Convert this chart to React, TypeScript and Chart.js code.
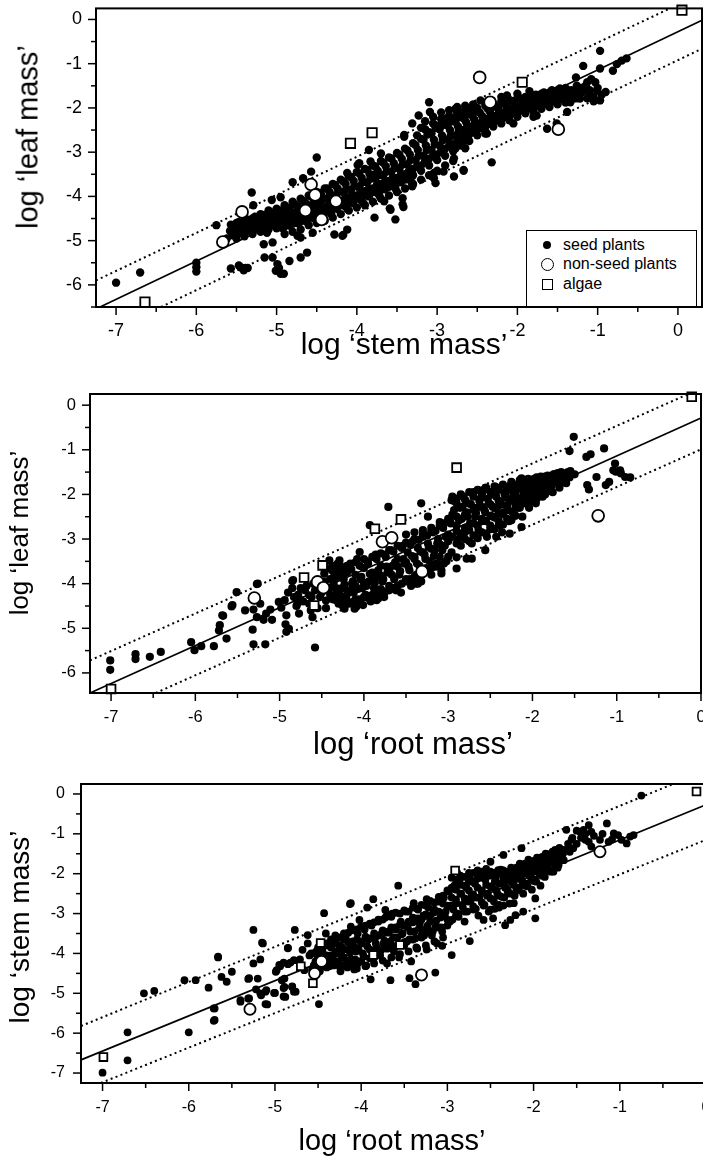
import React, { useEffect, useRef } from "react";
import { Chart, registerables } from "chart.js";

Chart.register(...registerables);

type Pt = [number, number];

const FONT = '"Liberation Sans", Arial, Helvetica, sans-serif';

const legendLabels = ["seed plants", "non-seed plants", "algae"];

// ---------------- Panel A : leaf vs stem ----------------
const xTitleA = "log \u2018stem mass\u2019";
const yTitleA = "log \u2018leaf mass\u2019";
const xRangeA: Pt = [-7.25, 0.3];
const yRangeA: Pt = [-6.5, 0.25];
const seedA: Pt[] = [
  [-7.0, -5.95], [-6.7, -5.72], [-6.0, -5.5], [-6.0, -5.6], [-6.0, -5.7], [-5.75, -4.65],
  [-5.57, -5.63], [-5.47, -5.56], [-5.41, -5.67], [-5.36, -5.62], [-5.45, -5.6], [-5.39, -5.62],
  [-5.31, -3.91], [-5.29, -4.2], [-5.06, -4.08], [-4.95, -4.02],
  [-5.16, -5.08], [-5.05, -5.04], [-5.15, -5.38], [-5.05, -5.38], [-4.99, -5.53], [-5.01, -5.68],
  [-4.95, -5.75], [-4.91, -5.75], [-4.97, -5.62], [-4.84, -5.46], [-4.7, -5.38], [-4.62, -5.27],
  [-4.74, -4.89], [-4.7, -4.93], [-4.55, -4.82], [-4.28, -4.86], [-4.17, -4.87], [-4.12, -4.75], [-4.18, -4.89],
  [-4.5, -3.12], [-4.57, -3.44], [-4.8, -3.68], [-4.67, -3.59],
  [-3.85, -2.95], [-3.7, -3.03], [-3.97, -3.25], [-4.12, -3.47], [-3.83, -3.21], [-3.99, -3.29],
  [-3.41, -2.61], [-3.23, -2.17], [-3.1, -1.87], [-3.09, -2.09], [-3.31, -2.35], [-3.41, -2.65],
  [-3.78, -4.48], [-3.52, -4.52], [-3.59, -4.27], [-3.42, -4.24], [-3.43, -4.04], [-3.66, -4.11],
  [-3.43, -4.18], [-3.58, -4.3], [-3.79, -3.51], [-3.97, -3.81],
  [-3.31, -3.77], [-3.04, -3.47], [-3.04, -3.59], [-2.92, -3.44], [-2.79, -3.55], [-2.67, -3.4],
  [-2.79, -3.14], [-2.32, -3.23], [-3.02, -3.7], [-2.67, -3.42],
  [-2.77, -2.91], [-2.65, -2.73], [-2.4, -2.58], [-2.05, -2.35], [-1.8, -2.2], [-1.63, -2.47],
  [-1.51, -2.35], [-1.38, -2.09], [-1.3, -1.79], [-1.76, -2.17], [-2.38, -2.58], [-2.65, -2.91],
  [-2.46, -1.83], [-2.77, -2.02], [-2.13, -1.72],
  [-0.97, -0.71], [-1.18, -1.05], [-0.97, -1.11], [-0.81, -1.16], [-0.76, -1.01], [-0.7, -0.93],
  [-0.64, -0.88], [-1.27, -1.31],
  [-1.26, -1.5], [-1.26, -1.62], [-1.26, -1.78], [-1.13, -1.42], [-1.13, -1.6], [-1.13, -1.78],
  [-1.03, -1.42], [-1.01, -1.61], [-0.9, -1.64], [-0.97, -1.83], [-1.05, -1.76], [-1.34, -1.87], [-1.22, -1.79],
  [-3.2, -2.45], [-3.15, -2.3], [-3.05, -2.2], [-2.95, -2.1], [-2.85, -2.05], [-2.75, -1.98],
  [-2.65, -1.95], [-2.55, -1.92], [-2.9, -2.25], [-2.7, -2.15], [-2.6, -2.05],
  [-2.2, -1.75], [-2.0, -1.68], [-1.85, -1.62], [-2.35, -1.85],
  [-5.62, -4.95], [-5.58, -4.78], [-5.55, -4.68],
  [-5.5, -4.85], [-5.47, -4.72], [-5.44, -4.62],
  [-5.4, -4.8], [-5.37, -4.66], [-5.33, -4.55],
  [-5.3, -4.75], [-5.27, -4.6], [-5.24, -4.48],
  [-5.2, -4.72], [-5.17, -4.58], [-5.14, -4.45], [-5.12, -4.82],
  [-5.1, -4.62], [-5.07, -4.5], [-5.04, -4.38],
  [-5.0, -4.6], [-4.97, -4.46], [-4.94, -4.34], [-4.92, -4.72],
  [-4.9, -4.55], [-4.87, -4.42], [-4.84, -4.28],
  [-4.8, -4.5], [-4.77, -4.36], [-4.74, -4.22], [-4.72, -4.6],
  [-4.7, -4.42], [-4.67, -4.28], [-4.64, -4.15],
  [-4.6, -4.38], [-4.57, -4.2], [-4.54, -4.05], [-4.52, -4.5],
  [-4.5, -4.3], [-4.47, -4.12], [-4.44, -3.98],
  [-4.4, -4.25], [-4.37, -4.05], [-4.34, -3.9], [-4.32, -4.4],
  [-4.3, -4.15], [-4.27, -3.98], [-4.24, -3.82],
  [-4.2, -4.1], [-4.17, -3.9], [-4.14, -3.72], [-4.12, -4.28],
  [-4.1, -4.02], [-4.07, -3.85], [-4.04, -3.65],
  [-4.0, -3.98], [-3.97, -3.78], [-3.94, -3.58], [-3.92, -4.15],
  [-3.9, -3.88], [-3.87, -3.68], [-3.84, -3.5],
  [-3.8, -3.82], [-3.77, -3.6], [-3.74, -3.42], [-3.72, -3.98],
  [-3.7, -3.72], [-3.67, -3.52], [-3.64, -3.32],
  [-3.6, -3.65], [-3.57, -3.45], [-3.54, -3.25], [-3.52, -3.82],
  [-3.5, -3.58], [-3.47, -3.38], [-3.44, -3.15],
  [-3.4, -3.5], [-3.37, -3.28], [-3.34, -3.05], [-3.32, -3.68],
  [-3.3, -3.38], [-3.27, -3.18], [-3.24, -2.95],
  [-3.2, -3.3], [-3.17, -3.08], [-3.14, -2.85], [-3.12, -2.6],
  [-3.1, -3.15], [-3.07, -2.95], [-3.04, -2.72], [-3.02, -2.45],
  [-3.0, -3.05], [-2.97, -2.85], [-2.94, -2.62], [-2.92, -2.38],
  [-2.9, -2.92], [-2.87, -2.72], [-2.84, -2.5], [-2.82, -2.3],
  [-2.8, -2.82], [-2.77, -2.62], [-2.74, -2.42], [-2.72, -2.2],
  [-2.7, -2.7], [-2.67, -2.5], [-2.64, -2.32], [-2.62, -2.15],
  [-2.6, -2.6], [-2.57, -2.42], [-2.54, -2.25], [-2.52, -2.08],
  [-2.5, -2.5], [-2.47, -2.35], [-2.44, -2.18],
  [-2.4, -2.42], [-2.37, -2.25], [-2.34, -2.1], [-2.32, -1.98],
  [-2.3, -2.32], [-2.27, -2.18], [-2.24, -2.02],
  [-2.2, -2.25], [-2.17, -2.1], [-2.14, -1.95],
  [-2.1, -2.18], [-2.07, -2.02], [-2.04, -1.88],
  [-2.0, -2.1], [-1.97, -1.96], [-1.94, -1.82],
  [-1.9, -2.05], [-1.87, -1.9], [-1.84, -1.78],
  [-1.8, -1.98], [-1.77, -1.85], [-1.74, -1.72],
  [-1.7, -1.95], [-1.67, -1.8], [-1.64, -1.68],
  [-1.6, -1.9], [-1.57, -1.75], [-1.54, -1.62],
  [-1.5, -1.85], [-1.47, -1.7], [-1.44, -1.58],
  [-1.4, -1.8], [-1.37, -1.66],
];
const seedCoreA: Pt[] = [
  [-5.55, -4.88], [-5.53, -4.74], [-5.57, -4.64], [-5.45, -4.82], [-5.43, -4.7], [-5.47, -4.58],
  [-5.35, -4.77], [-5.33, -4.64], [-5.37, -4.52], [-5.25, -4.72], [-5.23, -4.58], [-5.27, -4.46],
  [-5.15, -4.68], [-5.13, -4.54], [-5.17, -4.42], [-5.05, -4.64], [-5.03, -4.5], [-5.07, -4.36],
  [-4.95, -4.6], [-4.93, -4.45], [-4.97, -4.32], [-4.95, -4.7], [-4.85, -4.55], [-4.83, -4.38],
  [-4.87, -4.25], [-4.85, -4.66], [-4.75, -4.48], [-4.73, -4.32], [-4.77, -4.18], [-4.75, -4.6],
  [-4.65, -4.42], [-4.63, -4.24], [-4.67, -4.1], [-4.65, -4.55], [-4.55, -4.35], [-4.53, -4.16],
  [-4.57, -4.0], [-4.55, -4.48], [-4.45, -4.28], [-4.43, -4.08], [-4.47, -3.92], [-4.45, -4.42],
  [-4.35, -4.2], [-4.33, -3.98], [-4.37, -3.82], [-4.35, -4.35], [-4.25, -4.12], [-4.23, -3.9],
  [-4.27, -3.74], [-4.25, -4.28], [-4.15, -4.05], [-4.13, -3.84], [-4.17, -3.66], [-4.15, -4.22],
  [-4.05, -3.98], [-4.03, -3.76], [-4.07, -3.56], [-4.05, -4.15], [-3.95, -3.9], [-3.93, -3.68],
  [-3.97, -3.48], [-3.95, -4.08], [-3.85, -3.82], [-3.83, -3.6], [-3.87, -3.4], [-3.85, -4.0],
  [-3.75, -3.74], [-3.73, -3.52], [-3.77, -3.32], [-3.75, -3.92], [-3.65, -3.66], [-3.63, -3.44],
  [-3.67, -3.24], [-3.65, -3.84], [-3.55, -3.58], [-3.53, -3.36], [-3.57, -3.14], [-3.55, -3.76],
  [-3.45, -3.5], [-3.43, -3.28], [-3.47, -3.06], [-3.45, -3.68], [-3.35, -3.42], [-3.33, -3.18],
  [-3.37, -2.96], [-3.35, -3.6], [-3.25, -3.32], [-3.23, -3.08], [-3.27, -2.84], [-3.25, -2.62],
  [-3.15, -3.2], [-3.13, -2.95], [-3.17, -2.72], [-3.15, -2.48], [-3.05, -3.08], [-3.03, -2.82],
  [-3.07, -2.58], [-3.05, -2.35], [-2.95, -2.98], [-2.93, -2.72], [-2.97, -2.48], [-2.95, -2.25],
  [-2.85, -2.86], [-2.83, -2.62], [-2.87, -2.4], [-2.85, -2.18], [-2.75, -2.76], [-2.73, -2.52],
  [-2.77, -2.32], [-2.75, -2.1], [-2.65, -2.66], [-2.63, -2.44], [-2.67, -2.24], [-2.65, -2.06],
  [-2.55, -2.55], [-2.53, -2.35], [-2.57, -2.16], [-2.55, -2.0], [-2.45, -2.45], [-2.43, -2.26],
  [-2.47, -2.1], [-2.35, -2.36], [-2.33, -2.18], [-2.37, -2.02], [-2.25, -2.28], [-2.23, -2.1],
  [-2.27, -1.96], [-2.15, -2.2], [-2.13, -2.04], [-2.17, -1.9], [-2.05, -2.12], [-2.03, -1.97],
  [-2.07, -1.84], [-1.95, -2.06], [-1.93, -1.92], [-1.97, -1.78], [-1.85, -2.0], [-1.83, -1.87],
  [-1.87, -1.74], [-1.75, -1.95], [-1.73, -1.82], [-1.77, -1.7], [-1.65, -1.9], [-1.63, -1.77],
  [-1.67, -1.65], [-1.55, -1.85], [-1.53, -1.72], [-1.57, -1.6], [-1.45, -1.8], [-1.43, -1.67],
  [-1.47, -1.56], [-1.35, -1.75], [-1.33, -1.6], [-1.2, -1.65], [-1.15, -1.5], [-1.1, -1.7],
  [-1.0, -1.55], [-0.95, -1.7], [-1.08, -1.35],
];
const seedFillA: Pt[] = [
  [-5.5, -4.95], [-5.5, -4.6], [-5.4, -4.9], [-5.4, -4.55], [-5.3, -4.85], [-5.3, -4.5],
  [-5.2, -4.8], [-5.2, -4.4], [-5.1, -4.75], [-5.1, -4.32], [-5.0, -4.72], [-5.0, -4.28],
  [-4.9, -4.65], [-4.9, -4.2], [-4.9, -4.85], [-4.8, -4.62], [-4.8, -4.12], [-4.8, -4.8],
  [-4.7, -4.55], [-4.7, -4.05], [-4.7, -4.75], [-4.6, -4.5], [-4.6, -3.98], [-4.6, -4.65],
  [-4.5, -4.42], [-4.5, -3.9], [-4.5, -4.6], [-4.4, -4.35], [-4.4, -3.82], [-4.4, -4.55],
  [-4.3, -4.28], [-4.3, -3.72], [-4.3, -4.48], [-4.2, -4.2], [-4.2, -3.62], [-4.2, -4.4],
  [-4.1, -4.12], [-4.1, -3.55], [-4.1, -4.32], [-4.0, -4.05], [-4.0, -3.45], [-4.0, -4.25],
  [-3.9, -3.98], [-3.9, -3.38], [-3.9, -4.2], [-3.8, -3.9], [-3.8, -3.3], [-3.8, -4.12],
  [-3.7, -3.85], [-3.7, -3.2], [-3.7, -4.05], [-3.6, -3.78], [-3.6, -3.12], [-3.6, -3.98],
  [-3.5, -3.7], [-3.5, -3.02], [-3.5, -3.9], [-3.4, -3.62], [-3.4, -2.92], [-3.4, -3.82],
  [-3.3, -3.52], [-3.3, -2.8], [-3.3, -3.72], [-3.2, -3.42], [-3.2, -2.7], [-3.2, -3.62],
  [-3.1, -3.3], [-3.1, -2.55], [-3.1, -3.52], [-3.0, -3.18], [-3.0, -2.4], [-3.0, -3.42],
  [-2.9, -3.08], [-2.9, -2.32], [-2.9, -3.3], [-2.8, -2.98], [-2.8, -2.22], [-2.8, -3.2],
  [-2.7, -2.85], [-2.7, -2.1], [-2.6, -2.75], [-2.6, -2.02], [-2.5, -2.62], [-2.5, -2.0],
  [-2.4, -2.52], [-2.4, -1.95], [-2.3, -2.42], [-2.3, -1.9], [-2.2, -2.35], [-2.2, -1.85],
  [-2.1, -2.28], [-2.1, -1.82], [-2.0, -2.2], [-2.0, -1.78], [-1.9, -2.12], [-1.9, -1.75],
  [-1.8, -2.08], [-1.8, -1.72], [-1.7, -2.02], [-1.7, -1.68], [-1.6, -1.98], [-1.6, -1.65],
  [-1.5, -1.92], [-1.5, -1.6], [-1.4, -1.88], [-1.4, -1.55], [-1.3, -1.7], [-1.2, -1.55],
  [-1.1, -1.6], [-1.05, -1.85],
];
const nonSeedA: Pt[] = [
  [-5.43, -4.35], [-5.67, -5.03], [-4.57, -3.73], [-4.52, -3.97], [-4.44, -4.52],
  [-4.26, -4.11], [-4.64, -4.32], [-2.47, -1.31], [-2.34, -1.87], [-1.49, -2.48],
];
const algaeA: Pt[] = [[-6.64, -6.39], [-4.08, -2.8], [-3.81, -2.56], [-1.94, -1.42], [0.05, 0.21]];
const fitA: Pt[] = [[-7.2, -6.5], [0.3, -0.02]];
const upperA: Pt[] = [[-7.25, -5.9], [-0.1, 0.25]];
const lowerA: Pt[] = [[-6.44, -6.5], [0.3, -0.66]];

// ---------------- Panel B : leaf vs root ----------------
const xTitleB = "log \u2018root mass\u2019";
const yTitleB = "log \u2018leaf mass\u2019";
const xRangeB: Pt = [-7.25, 0];
const yRangeB: Pt = [-6.45, 0.25];
const seedB: Pt[] = [
  [-7.01, -5.72], [-7.01, -5.93], [-6.71, -5.58], [-6.71, -5.69], [-6.54, -5.64], [-6.41, -5.53],
  [-6.05, -5.31], [-6.01, -5.49], [-5.93, -5.4], [-5.78, -5.4], [-5.63, -5.23], [-5.67, -4.72],
  [-5.71, -4.93], [-5.72, -5.05],
  [-5.57, -4.51], [-5.51, -4.19], [-5.41, -4.6], [-5.32, -5.03], [-5.31, -5.36], [-5.17, -5.36], [-5.27, -4.01],
  [-5.3, -4.37], [-5.31, -4.58], [-5.27, -4.75], [-5.19, -4.81], [-5.16, -4.67], [-5.11, -4.58],
  [-5.09, -4.81], [-5.23, -4.45],
  [-5.01, -4.41], [-4.94, -4.37], [-4.98, -4.54], [-4.92, -4.71], [-4.93, -4.91], [-4.89, -5.01], [-4.92, -5.08],
  [-4.85, -3.94], [-4.83, -4.3], [-4.79, -4.45], [-4.75, -4.37], [-4.77, -4.67], [-4.7, -4.15],
  [-4.65, -4.26], [-4.61, -4.75], [-4.63, -4.6],
  [-4.58, -5.43], [-5.56, -4.48], [-5.68, -4.71], [-5.26, -4.0], [-4.84, -3.92],
  [-4.47, -3.77], [-4.37, -4.07], [-4.33, -4.37], [-4.23, -4.56], [-4.21, -3.7], [-4.13, -4.07],
  [-4.09, -4.45], [-4.41, -3.48], [-4.31, -3.55],
  [-4.29, -3.48], [-4.21, -4.33], [-4.09, -4.52], [-4.01, -4.48], [-3.83, -4.33], [-3.38, -4.0],
  [-3.08, -3.77], [-2.9, -3.66], [-2.9, -3.41],
  [-4.23, -4.37], [-4.11, -4.56], [-3.85, -4.37], [-4.05, -3.29], [-3.36, -4.0],
  [-3.71, -2.28], [-3.32, -2.2], [-3.93, -2.69], [-3.24, -2.5], [-2.96, -2.13], [-2.9, -2.1],
  [-2.13, -2.73], [-2.27, -2.88], [-2.43, -2.95], [-2.56, -3.25], [-2.72, -3.44], [-2.78, -3.44],
  [-2.13, -1.64], [-1.99, -1.91], [-1.87, -1.79], [-1.75, -1.68], [-1.63, -1.61], [-1.55, -1.53],
  [-1.51, -0.71], [-1.56, -1.03], [-1.36, -1.16], [-1.31, -1.1], [-1.15, -0.97], [-1.02, -1.31],
  [-1.24, -1.61], [-1.35, -1.79], [-1.33, -1.89],
  [-1.04, -1.46], [-1.01, -1.49], [-0.96, -1.46], [-0.9, -1.61], [-0.84, -1.62], [-0.95, -1.53],
  [-1.13, -1.79], [-1.09, -1.72],
  [-3.5, -2.9], [-3.4, -2.85], [-3.3, -2.8], [-3.2, -2.75], [-3.1, -2.7],
  [-4.85, -4.1], [-4.78, -4.25], [-4.72, -4.4], [-4.68, -4.05], [-4.62, -4.3], [-4.58, -4.15],
  [-4.55, -4.55], [-4.5, -4.2], [-4.47, -3.95], [-4.45, -4.38], [-4.42, -4.1],
  [-4.38, -3.7], [-4.36, -4.0], [-4.34, -4.25], [-4.32, -3.85], [-4.3, -4.4], [-4.28, -3.6],
  [-4.26, -4.1], [-4.24, -3.9], [-4.22, -4.3], [-4.2, -3.75], [-4.18, -4.45], [-4.16, -3.55],
  [-4.14, -4.0], [-4.12, -4.2], [-4.1, -3.8], [-4.08, -3.45], [-4.06, -4.35], [-4.04, -3.9],
  [-4.02, -4.1], [-4.0, -3.65], [-3.98, -4.25], [-3.96, -3.5], [-3.94, -3.95], [-3.92, -4.4],
  [-3.9, -3.75], [-3.88, -4.1], [-3.86, -3.35], [-3.84, -3.85], [-3.82, -4.2], [-3.8, -3.6],
  [-3.78, -3.95], [-3.76, -4.3], [-3.74, -3.4], [-3.72, -3.75], [-3.7, -4.05], [-3.68, -3.25],
  [-3.66, -3.6], [-3.64, -3.9], [-3.62, -4.15], [-3.6, -3.45], [-3.58, -3.8], [-3.56, -4.2],
  [-3.54, -3.15], [-3.52, -3.55], [-3.5, -3.9], [-3.48, -3.3], [-3.46, -3.7], [-3.44, -4.05],
  [-3.42, -3.05], [-3.4, -3.45], [-3.38, -3.8], [-3.36, -3.2], [-3.34, -3.6], [-3.32, -3.95],
  [-3.3, -2.95], [-3.28, -3.35], [-3.26, -3.65], [-3.24, -3.1], [-3.22, -3.5], [-3.2, -3.8],
  [-3.18, -2.85], [-3.16, -3.25], [-3.14, -3.55], [-3.12, -3.0], [-3.1, -3.4], [-3.08, -3.7],
  [-3.06, -2.75], [-3.04, -3.15], [-3.02, -3.5], [-3.0, -2.9], [-2.98, -2.6], [-2.96, -3.3],
  [-2.95, -2.45], [-2.93, -2.15], [-2.9, -2.7], [-2.88, -3.0], [-2.86, -2.3], [-2.84, -2.55],
  [-2.82, -2.05], [-2.8, -2.85], [-2.78, -2.4], [-2.76, -2.2], [-2.74, -2.65], [-2.72, -3.1],
  [-2.7, -1.95], [-2.68, -2.5], [-2.66, -2.3], [-2.64, -2.8], [-2.62, -2.1], [-2.6, -2.6],
  [-2.58, -1.9], [-2.56, -2.4], [-2.54, -2.95], [-2.52, -2.2], [-2.5, -2.7], [-2.48, -2.0],
  [-2.46, -2.5], [-2.44, -2.3], [-2.42, -1.85], [-2.4, -2.6], [-2.38, -2.15], [-2.36, -2.85],
  [-2.34, -2.4], [-2.32, -1.95], [-2.3, -2.25], [-2.28, -2.6], [-2.26, -1.8], [-2.24, -2.1],
  [-2.22, -2.45], [-2.2, -1.95], [-2.18, -2.3], [-2.16, -1.75], [-2.14, -2.15], [-2.12, -2.5],
  [-2.1, -1.9], [-2.08, -2.05], [-2.06, -1.7], [-2.04, -2.3], [-2.02, -1.85], [-2.0, -2.0],
  [-1.98, -1.65], [-1.96, -2.2], [-1.94, -1.8], [-1.92, -1.95], [-1.9, -1.6], [-1.88, -2.05],
  [-1.86, -1.75], [-1.84, -1.9], [-1.82, -1.58], [-1.8, -1.8], [-1.78, -1.65], [-1.76, -1.95],
  [-1.74, -1.55], [-1.72, -1.72], [-1.7, -1.6], [-1.68, -1.85], [-1.66, -1.5], [-1.64, -1.68],
  [-1.62, -1.55], [-1.6, -1.75], [-1.58, -1.5], [-1.56, -1.62], [-1.54, -1.55],
];
const seedCoreB: Pt[] = [
  [-4.9, -4.2], [-4.8, -4.5], [-4.75, -4.1], [-4.65, -4.45], [-4.6, -4.0], [-4.52, -4.3], [-4.45, -4.55], [-4.4, -3.9],
  [-4.35, -3.8], [-4.33, -4.1], [-4.37, -4.35], [-4.35, -3.6], [-4.25, -3.75], [-4.23, -4.02],
  [-4.27, -4.28], [-4.25, -4.5], [-4.15, -3.68], [-4.13, -3.95], [-4.17, -4.2], [-4.15, -4.42],
  [-4.05, -3.6], [-4.03, -3.85], [-4.07, -4.12], [-4.05, -4.38], [-3.95, -3.55], [-3.93, -3.78],
  [-3.97, -4.05], [-3.95, -4.32], [-3.85, -3.45], [-3.83, -3.7], [-3.87, -3.98], [-3.85, -4.25],
  [-3.75, -3.35], [-3.73, -3.62], [-3.77, -3.9], [-3.75, -4.18], [-3.65, -3.28], [-3.63, -3.52],
  [-3.67, -3.8], [-3.65, -4.1], [-3.55, -3.2], [-3.53, -3.45], [-3.57, -3.72], [-3.55, -4.0],
  [-3.45, -3.12], [-3.43, -3.38], [-3.47, -3.62], [-3.45, -3.9], [-3.35, -3.02], [-3.33, -3.28],
  [-3.37, -3.55], [-3.35, -3.82], [-3.25, -2.92], [-3.23, -3.18], [-3.27, -3.45], [-3.25, -3.72],
  [-3.15, -2.82], [-3.13, -3.1], [-3.17, -3.38], [-3.15, -3.62], [-3.05, -2.65], [-3.03, -2.95],
  [-3.07, -3.25], [-3.05, -3.55],
  [-2.95, -2.05], [-2.93, -2.35], [-2.97, -2.65], [-2.95, -2.95], [-2.85, -2.0], [-2.83, -2.28],
  [-2.87, -2.58], [-2.85, -2.88], [-2.85, -3.15], [-2.75, -1.95], [-2.73, -2.22], [-2.77, -2.5],
  [-2.75, -2.8], [-2.75, -3.05], [-2.65, -1.9], [-2.63, -2.15], [-2.67, -2.42], [-2.65, -2.7],
  [-2.65, -2.98], [-2.55, -1.85], [-2.53, -2.1], [-2.57, -2.35], [-2.55, -2.6], [-2.55, -2.88],
  [-2.45, -1.82], [-2.43, -2.05], [-2.47, -2.28], [-2.45, -2.52], [-2.45, -2.78], [-2.35, -1.78],
  [-2.33, -2.0], [-2.37, -2.22], [-2.35, -2.45], [-2.35, -2.68], [-2.25, -1.72], [-2.23, -1.95],
  [-2.27, -2.15], [-2.25, -2.38], [-2.25, -2.58], [-2.15, -1.68], [-2.13, -1.88], [-2.17, -2.08],
  [-2.15, -2.3], [-2.05, -1.65], [-2.03, -1.82], [-2.07, -2.0], [-2.05, -2.2], [-1.95, -1.62],
  [-1.93, -1.76], [-1.97, -1.92], [-1.95, -2.1], [-1.85, -1.6], [-1.83, -1.72], [-1.87, -1.86],
  [-1.85, -2.0], [-1.75, -1.55], [-1.73, -1.68], [-1.77, -1.8], [-1.65, -1.52], [-1.63, -1.63],
  [-1.67, -1.75], [-1.55, -1.48], [-1.58, -1.6],
];
const seedFillB: Pt[] = [
  [-4.4, -3.65], [-4.4, -4.25], [-4.3, -3.7], [-4.3, -4.2], [-4.3, -4.45], [-4.2, -3.6], [-4.2, -4.15],
  [-4.2, -4.4], [-4.1, -3.52], [-4.1, -4.05], [-4.1, -4.35], [-4.0, -3.45], [-4.0, -3.98], [-4.0, -4.3],
  [-3.9, -3.4], [-3.9, -3.92], [-3.9, -4.25], [-3.8, -3.32], [-3.8, -3.82], [-3.8, -4.12],
  [-3.7, -3.25], [-3.7, -3.7], [-3.7, -4.15], [-3.6, -3.15], [-3.6, -3.62], [-3.6, -4.05],
  [-3.5, -3.08], [-3.5, -3.52], [-3.5, -3.95], [-3.4, -3.0], [-3.4, -3.4], [-3.4, -3.85],
  [-3.3, -2.9], [-3.3, -3.3], [-3.3, -3.78], [-3.2, -2.82], [-3.2, -3.22], [-3.2, -3.65],
  [-3.1, -2.62], [-3.1, -3.12], [-3.1, -3.58], [-3.0, -2.55], [-3.0, -3.05], [-3.0, -3.4],
  [-2.9, -2.2], [-2.9, -2.5], [-2.9, -2.82], [-2.9, -3.1], [-2.8, -2.12], [-2.8, -2.45],
  [-2.8, -2.75], [-2.8, -3.0], [-2.7, -2.05], [-2.7, -2.35], [-2.7, -2.65], [-2.7, -2.92],
  [-2.6, -2.0], [-2.6, -2.28], [-2.6, -2.55], [-2.6, -2.85], [-2.5, -1.95], [-2.5, -2.22],
  [-2.5, -2.48], [-2.5, -2.78], [-2.4, -1.9], [-2.4, -2.15], [-2.4, -2.42], [-2.4, -2.7],
  [-2.3, -1.85], [-2.3, -2.08], [-2.3, -2.35], [-2.3, -2.55], [-2.2, -1.8], [-2.2, -2.02],
  [-2.2, -2.25], [-2.2, -2.48], [-2.1, -1.75], [-2.1, -1.98], [-2.1, -2.2], [-2.0, -1.72],
  [-2.0, -1.9], [-2.0, -2.12], [-1.9, -1.68], [-1.9, -1.85], [-1.9, -2.0], [-1.8, -1.65],
  [-1.8, -1.92], [-1.7, -1.7], [-1.7, -1.52], [-1.6, -1.62], [-1.5, -1.55],
];
const nonSeedB: Pt[] = [
  [-5.3, -4.32], [-4.55, -3.96], [-4.48, -4.09], [-3.78, -3.06], [-3.67, -2.97], [-3.31, -3.73], [-1.22, -2.48],
];
const algaeB: Pt[] = [
  [-7.0, -6.36], [-4.71, -3.86], [-4.49, -3.59], [-4.59, -4.49], [-3.87, -2.77], [-3.56, -2.56], [-2.9, -1.4], [-0.11, 0.19],
];
const fitB: Pt[] = [[-7.25, -6.45], [0, -0.29]];
const upperB: Pt[] = [[-7.25, -5.72], [-0.15, 0.25]];
const lowerB: Pt[] = [[-6.47, -6.45], [0, -0.99]];

// ---------------- Panel C : stem vs root ----------------
const xTitleC = "log \u2018root mass\u2019";
const yTitleC = "log \u2018stem mass\u2019";
const xRangeC: Pt = [-7.25, 0];
const yRangeC: Pt = [-7.25, 0.25];
const seedC: Pt[] = [
  [-7.0, -6.99], [-6.71, -5.98], [-6.71, -6.68], [-6.52, -5.0], [-6.4, -4.94], [-6.05, -4.67],
  [-5.92, -4.67], [-6.0, -5.98],
  [-5.77, -4.86], [-5.66, -4.08], [-5.62, -4.59], [-5.56, -4.71], [-5.5, -4.46], [-5.7, -5.38], [-5.7, -5.67],
  [-5.4, -5.21], [-5.31, -5.13], [-5.25, -3.41], [-5.25, -4.25], [-5.17, -4.15], [-5.14, -3.75],
  [-5.31, -4.64], [-5.2, -4.63], [-5.22, -4.9],
  [-5.16, -5.05], [-5.1, -4.92], [-5.09, -5.28], [-5.0, -4.99], [-4.99, -4.46], [-4.95, -4.29],
  [-4.9, -4.23], [-4.85, -4.27], [-4.85, -3.87], [-4.77, -3.41],
  [-4.89, -4.63], [-4.89, -4.84], [-4.88, -5.09], [-4.8, -4.84], [-4.76, -4.96], [-4.78, -4.17],
  [-4.68, -3.91], [-4.66, -4.42], [-4.62, -3.75], [-4.58, -4.0], [-4.49, -5.27], [-4.43, -2.99],
  [-4.41, -3.5], [-4.35, -4.17], [-4.31, -3.75], [-4.27, -4.0], [-4.25, -4.33], [-4.2, -3.66],
  [-4.12, -2.74], [-4.08, -3.83], [-4.12, -3.33], [-4.04, -4.25], [-4.02, -3.16],
  [-3.57, -2.3], [-3.86, -2.64], [-4.13, -2.76], [-5.15, -3.73], [-5.66, -4.1], [-4.85, -3.86], [-4.62, -3.54],
  [-3.93, -2.85], [-3.72, -2.91], [-3.39, -2.74], [-3.24, -2.64],
  [-3.06, -3.81], [-2.95, -4.04], [-3.14, -4.48], [-3.37, -4.77], [-3.44, -4.62], [-3.66, -4.67], [-3.89, -4.65],
  [-5.71, -5.38], [-5.71, -5.69], [-5.3, -4.62], [-5.4, -5.17], [-5.3, -5.13], [-5.11, -5.27],
  [-5.17, -5.0], [-5.11, -4.96], [-5.01, -4.99],
  [-4.92, -4.67], [-4.9, -4.87], [-4.9, -5.08], [-4.8, -4.83], [-4.78, -4.96], [-4.98, -4.42],
  [-4.94, -4.32], [-4.82, -4.23], [-4.71, -4.15],
  [-0.75, -0.04], [-1.15, -0.74], [-0.88, -1.07], [-0.84, -1.03], [-0.92, -1.24], [-1.07, -0.99],
  [-1.02, -1.03], [-0.98, -1.15], [-1.13, -1.2], [-1.09, -1.14], [-1.23, -1.15], [-1.36, -1.2],
  [-1.33, -1.32], [-1.36, -0.78], [-1.33, -0.95], [-1.42, -0.9], [-1.5, -0.92], [-1.62, -0.9],
  [-1.46, -0.95], [-1.56, -1.15], [-1.54, -1.36], [-1.58, -1.45], [-1.75, -1.4], [-1.81, -1.57],
  [-1.65, -1.66], [-1.71, -1.78], [-1.89, -1.66], [-1.92, -1.82], [-2.14, -1.36], [-2.35, -1.53],
  [-2.5, -1.7], [-1.98, -2.62], [-1.98, -3.12], [-2.12, -2.95], [-2.21, -3.04], [-2.27, -3.16],
  [-2.33, -3.29], [-2.41, -1.91], [-2.74, -3.69], [-2.23, -2.74], [-2.58, -3.16], [-2.47, -3.12],
  [-4.6, -4.05], [-4.55, -4.3], [-4.52, -3.95], [-4.5, -4.2], [-4.48, -4.45], [-4.45, -3.9],
  [-4.42, -4.15], [-4.4, -4.35], [-4.38, -3.8], [-4.35, -4.05], [-4.32, -4.3], [-4.3, -3.7],
  [-4.28, -3.95], [-4.26, -4.2], [-4.24, -4.45], [-4.22, -3.85], [-4.2, -4.1], [-4.18, -3.6],
  [-4.16, -4.35], [-4.14, -3.9], [-4.12, -4.15], [-4.1, -3.7], [-4.08, -4.4], [-4.06, -3.95],
  [-4.04, -3.5], [-4.02, -4.2], [-4.0, -3.75], [-3.98, -4.0], [-3.96, -3.4], [-3.94, -4.3],
  [-3.92, -3.65], [-3.9, -3.9], [-3.88, -3.3], [-3.86, -4.15], [-3.84, -3.6], [-3.82, -3.85],
  [-3.8, -3.2], [-3.78, -4.05], [-3.76, -3.5], [-3.74, -3.75], [-3.72, -3.1], [-3.7, -4.25],
  [-3.68, -3.45], [-3.66, -3.7], [-3.64, -3.0], [-3.62, -3.95], [-3.6, -3.35], [-3.58, -3.6],
  [-3.56, -4.1], [-3.54, -3.2], [-3.52, -3.5], [-3.5, -3.8], [-3.48, -2.95], [-3.46, -3.35],
  [-3.44, -3.65], [-3.42, -4.2], [-3.4, -3.1], [-3.38, -3.45], [-3.36, -3.85], [-3.34, -2.9],
  [-3.32, -3.25], [-3.3, -3.6], [-3.28, -3.05], [-3.26, -3.4], [-3.24, -3.9], [-3.22, -2.85],
  [-3.2, -3.2], [-3.18, -3.55], [-3.16, -2.95], [-3.14, -3.35], [-3.12, -3.75], [-3.1, -2.7],
  [-3.08, -3.1], [-3.06, -3.45], [-3.04, -2.6], [-3.02, -2.95], [-3.0, -3.3], [-2.98, -2.45],
  [-2.96, -2.8], [-2.94, -3.15], [-2.92, -2.3], [-2.9, -2.65], [-2.88, -3.0], [-2.86, -2.2],
  [-2.84, -2.5], [-2.82, -2.85], [-2.8, -3.2], [-2.78, -2.35], [-2.76, -2.7], [-2.74, -2.1],
  [-2.72, -2.55], [-2.7, -2.9], [-2.68, -2.25], [-2.66, -2.6], [-2.64, -3.05], [-2.62, -2.0],
  [-2.6, -2.45], [-2.58, -2.8], [-2.56, -2.15], [-2.54, -2.55], [-2.52, -2.95], [-2.5, -1.95],
  [-2.48, -2.35], [-2.46, -2.7], [-2.44, -2.1], [-2.42, -2.5], [-2.4, -2.85], [-2.38, -1.9],
  [-2.36, -2.25], [-2.34, -2.6], [-2.32, -2.05], [-2.3, -2.4], [-2.28, -2.75], [-2.26, -1.85],
  [-2.24, -2.2], [-2.22, -2.55], [-2.2, -1.95], [-2.18, -2.35], [-2.16, -1.75], [-2.14, -2.15],
  [-2.12, -2.5], [-2.1, -1.85], [-2.08, -2.25], [-2.06, -1.65], [-2.04, -2.05], [-2.02, -2.4],
  [-2.0, -1.8], [-1.98, -2.15], [-1.96, -1.6], [-1.94, -1.95], [-1.92, -2.3], [-1.9, -1.7],
  [-1.88, -2.0], [-1.86, -1.5], [-1.84, -1.85], [-1.82, -1.65], [-1.8, -1.95], [-1.78, -1.45],
  [-1.76, -1.75], [-1.74, -1.55], [-1.72, -1.85], [-1.7, -1.35], [-1.68, -1.65], [-1.66, -1.5],
];
const seedCoreC: Pt[] = [
  [-4.55, -4.0], [-4.53, -4.2], [-4.57, -4.4], [-4.45, -3.95], [-4.43, -4.15], [-4.47, -4.35],
  [-4.35, -3.85], [-4.33, -4.1], [-4.37, -4.32], [-4.35, -3.65], [-4.25, -3.8], [-4.23, -4.05],
  [-4.27, -4.28], [-4.25, -3.6], [-4.15, -3.72], [-4.13, -3.98], [-4.17, -4.22], [-4.15, -3.48],
  [-4.05, -3.65], [-4.03, -3.9], [-4.07, -4.15], [-4.05, -3.4], [-4.05, -4.38], [-3.95, -3.58],
  [-3.93, -3.82], [-3.97, -4.08], [-3.95, -3.3], [-3.95, -4.32], [-3.85, -3.5], [-3.83, -3.75],
  [-3.87, -4.0], [-3.85, -3.22], [-3.85, -4.25], [-3.75, -3.42], [-3.73, -3.68], [-3.77, -3.92],
  [-3.75, -3.15], [-3.75, -4.18], [-3.65, -3.35], [-3.63, -3.6], [-3.67, -3.85], [-3.65, -3.08],
  [-3.65, -4.1], [-3.55, -3.28], [-3.53, -3.52], [-3.57, -3.78], [-3.55, -3.0], [-3.55, -4.02],
  [-3.45, -3.2], [-3.43, -3.45], [-3.47, -3.7], [-3.45, -2.95], [-3.45, -3.95], [-3.35, -3.12],
  [-3.33, -3.38], [-3.37, -3.62], [-3.35, -2.88], [-3.35, -3.88], [-3.25, -3.02], [-3.23, -3.3],
  [-3.27, -3.55], [-3.25, -2.8], [-3.25, -3.8], [-3.15, -2.9], [-3.13, -3.18], [-3.17, -3.45],
  [-3.15, -2.72], [-3.15, -3.7], [-3.05, -2.75], [-3.03, -3.05], [-3.07, -3.35], [-3.05, -2.55],
  [-3.05, -3.6], [-2.95, -2.6], [-2.93, -2.9], [-2.97, -3.2], [-2.95, -2.35], [-2.95, -2.1],
  [-2.85, -2.5], [-2.83, -2.78], [-2.87, -3.08], [-2.85, -2.28], [-2.85, -2.05], [-2.75, -2.42],
  [-2.73, -2.68], [-2.77, -2.95], [-2.75, -2.2], [-2.75, -1.98], [-2.65, -2.35], [-2.63, -2.6],
  [-2.67, -2.88], [-2.65, -2.12], [-2.65, -1.92], [-2.55, -2.28], [-2.53, -2.5], [-2.57, -2.78],
  [-2.55, -2.05], [-2.55, -1.88], [-2.45, -2.2], [-2.43, -2.42], [-2.47, -2.65], [-2.45, -1.98],
  [-2.45, -2.88], [-2.35, -2.12], [-2.33, -2.35], [-2.37, -2.58], [-2.35, -1.92], [-2.35, -2.8],
  [-2.25, -2.05], [-2.23, -2.28], [-2.27, -2.5], [-2.25, -1.88], [-2.15, -1.98], [-2.13, -2.2],
  [-2.17, -2.42], [-2.15, -1.8], [-2.05, -1.9], [-2.03, -2.1], [-2.07, -2.32], [-2.05, -1.72],
  [-1.95, -1.8], [-1.93, -2.0], [-1.97, -2.2], [-1.95, -1.62], [-1.85, -1.7], [-1.83, -1.9],
  [-1.87, -2.08], [-1.85, -1.52], [-1.75, -1.6], [-1.73, -1.78], [-1.77, -1.95], [-1.75, -1.42],
  [-1.65, -1.4], [-1.6, -1.25], [-1.55, -1.1], [-1.45, -1.1], [-1.4, -1.0], [-1.3, -1.05], [-1.2, -1.0],
];
const seedFillC: Pt[] = [
  [-4.5, -4.1], [-4.5, -3.85], [-4.4, -4.05], [-4.4, -3.75], [-4.4, -4.3], [-4.3, -3.95], [-4.3, -4.2],
  [-4.3, -3.55], [-4.2, -3.9], [-4.2, -4.3], [-4.2, -3.5], [-4.1, -3.82], [-4.1, -4.25], [-4.1, -3.42],
  [-4.0, -3.7], [-4.0, -4.2], [-4.0, -3.32], [-3.9, -3.62], [-3.9, -4.12], [-3.9, -3.25],
  [-3.8, -3.55], [-3.8, -3.98], [-3.8, -3.15], [-3.7, -3.48], [-3.7, -3.88], [-3.7, -3.05],
  [-3.6, -3.4], [-3.6, -3.82], [-3.6, -2.98], [-3.5, -3.3], [-3.5, -3.72], [-3.5, -2.92],
  [-3.4, -3.22], [-3.4, -3.65], [-3.4, -2.85], [-3.3, -3.15], [-3.3, -3.55], [-3.3, -2.78],
  [-3.2, -3.05], [-3.2, -3.45], [-3.2, -2.68], [-3.1, -2.95], [-3.1, -3.35], [-3.1, -2.58],
  [-3.0, -2.8], [-3.0, -3.15], [-3.0, -2.42], [-2.9, -2.72], [-2.9, -3.05], [-2.9, -2.4], [-2.9, -2.15],
  [-2.8, -2.62], [-2.8, -2.95], [-2.8, -2.3], [-2.8, -2.08], [-2.7, -2.52], [-2.7, -2.82],
  [-2.7, -2.2], [-2.7, -1.98], [-2.6, -2.42], [-2.6, -2.72], [-2.6, -2.1], [-2.6, -1.95],
  [-2.5, -2.32], [-2.5, -2.62], [-2.5, -2.05], [-2.5, -2.9], [-2.4, -2.25], [-2.4, -2.55],
  [-2.4, -2.0], [-2.4, -2.78], [-2.3, -2.18], [-2.3, -2.45], [-2.3, -1.95], [-2.2, -2.1],
  [-2.2, -2.38], [-2.2, -1.85], [-2.1, -2.0], [-2.1, -2.3], [-2.1, -1.75], [-2.0, -1.92],
  [-2.0, -2.18], [-2.0, -1.68], [-1.9, -1.82], [-1.9, -2.05], [-1.9, -1.58], [-1.8, -1.72],
  [-1.8, -1.5], [-1.7, -1.55], [-1.7, -1.38], [-1.6, -1.42], [-1.5, -1.25], [-1.4, -1.15],
];
const nonSeedC: Pt[] = [[-5.29, -5.4], [-4.54, -4.5], [-4.46, -4.2], [-3.3, -4.54], [-1.23, -1.45]];
const algaeC: Pt[] = [
  [-6.99, -6.6], [-4.7, -4.32], [-4.56, -4.75], [-4.47, -3.74], [-3.86, -4.04], [-3.55, -3.79], [-2.91, -1.92], [-0.11, 0.06],
];
const fitC: Pt[] = [[-7.25, -6.67], [0, -0.27]];
const upperC: Pt[] = [[-7.25, -5.82], [-0.38, 0.25]];
const lowerC: Pt[] = [[-7.02, -7.25], [0, -1.15]];

// ---------------- layout (pixels) ----------------
const PANELS = [
  {
    key: "A", seed: [...seedA, ...seedCoreA, ...seedFillA], nonSeed: nonSeedA, algae: algaeA,
    fit: fitA, upper: upperA, lower: lowerA, xRange: xRangeA, yRange: yRangeA,
    top: 0, w: 720, h: 365, padTop: 5, padRight: 18, yW: 96, xH: 58, xPad: 13, yPad: 14, tick: 18,
    dot: 4.2, oc: 5.9, sq: 6.6,
  },
  {
    key: "B", seed: [...seedB, ...seedCoreB, ...seedFillB], nonSeed: nonSeedB, algae: algaeB,
    fit: fitB, upper: upperB, lower: lowerB, xRange: xRangeB, yRange: yRangeB,
    top: 380, w: 720, h: 360, padTop: 14, padRight: 19, yW: 90, xH: 47, xPad: 14.5, yPad: 14, tick: 16.5,
    dot: 4.1, oc: 5.9, sq: 6.2,
  },
  {
    key: "C", seed: [...seedC, ...seedCoreC, ...seedFillC], nonSeed: nonSeedC, algae: algaeC,
    fit: fitC, upper: upperC, lower: lowerC, xRange: xRangeC, yRange: yRangeC,
    top: 770, w: 720, h: 360, padTop: 14, padRight: 14, yW: 81, xH: 47, xPad: 15, yPad: 16, tick: 16,
    dot: 3.9, oc: 5.6, sq: 5.5,
  },
];

const TITLES = [
  { text: xTitleA, x: 404, y: 344, size: 30, rot: false },
  { text: yTitleA, x: 28, y: 137, size: 29, rot: true },
  { text: xTitleB, x: 413, y: 743, size: 31, rot: false },
  { text: yTitleB, x: 19, y: 533, size: 26, rot: true },
  { text: xTitleC, x: 392, y: 1140, size: 29, rot: false },
  { text: yTitleC, x: 20, y: 927, size: 28, rot: true },
];

const frameTicks = {
  id: "frameTicks",
  afterDraw(chart: any) {
    const { ctx, chartArea: a, scales } = chart;
    const xs = scales.x;
    const ys = scales.y;
    ctx.save();
    ctx.strokeStyle = "#000";
    ctx.lineWidth = 1.5;
    for (let k = Math.ceil(xs.min * 2 - 1e-6); k <= Math.floor(xs.max * 2 + 1e-6); k++) {
      const px = xs.getPixelForValue(k / 2);
      const len = k % 2 === 0 ? 8 : 5;
      ctx.beginPath();
      ctx.moveTo(px, a.bottom);
      ctx.lineTo(px, a.bottom + len);
      ctx.stroke();
    }
    for (let k = Math.ceil(ys.min * 2 - 1e-6); k <= Math.floor(ys.max * 2 + 1e-6); k++) {
      const py = ys.getPixelForValue(k / 2);
      const len = k % 2 === 0 ? 8 : 5;
      ctx.beginPath();
      ctx.moveTo(a.left, py);
      ctx.lineTo(a.left - len, py);
      ctx.stroke();
    }
    ctx.lineWidth = 2;
    ctx.strokeRect(a.left, a.top, a.right - a.left, a.bottom - a.top);
    ctx.restore();
  },
};

const toXY = (arr: Pt[]) => arr.map(([x, y]) => ({ x, y }));

function Panel({ p }: { p: any }) {
  const ref = useRef<HTMLCanvasElement | null>(null);
  useEffect(() => {
    if (!ref.current) return;
    const lineDs = (d: Pt[], dash: number[]) => ({
      data: toXY(d),
      showLine: true,
      pointRadius: 0,
      borderColor: "#000",
      borderWidth: dash.length ? 2 : 1.7,
      borderDash: dash,
      fill: false,
      order: 3,
      clip: false,
    });
    const chart = new Chart(ref.current, {
      type: "scatter",
      data: {
        datasets: [
          {
            label: legendLabels[2], data: toXY(p.algae), pointStyle: "rect", pointRadius: p.sq,
            backgroundColor: "#fff", borderColor: "#000", borderWidth: 1.8, order: 0, clip: false,
          },
          {
            label: legendLabels[1], data: toXY(p.nonSeed), pointStyle: "circle", pointRadius: p.oc,
            backgroundColor: "#fff", borderColor: "#000", borderWidth: 1.8, order: 1, clip: false,
          },
          {
            label: legendLabels[0], data: toXY(p.seed), pointStyle: "circle", pointRadius: p.dot,
            backgroundColor: "#000", borderColor: "#000", borderWidth: 0, order: 2, clip: false,
          },
          lineDs(p.fit, []),
          lineDs(p.upper, [2, 3.3]),
          lineDs(p.lower, [2, 3.3]),
        ] as any,
      },
      options: {
        responsive: false,
        maintainAspectRatio: false,
        animation: false,
        devicePixelRatio: 1,
        events: [],
        layout: { padding: { left: 0, top: p.padTop, right: p.padRight, bottom: 0 } },
        plugins: { legend: { display: false }, tooltip: { enabled: false } },
        scales: {
          x: {
            type: "linear", position: "bottom", min: p.xRange[0], max: p.xRange[1],
            grid: { display: false, drawTicks: false }, border: { display: false },
            ticks: {
              stepSize: 1, includeBounds: false, autoSkip: false, maxRotation: 0, minRotation: 0,
              padding: p.xPad, color: "#000", font: { family: FONT, size: p.tick },
              callback: (v: any) => String(v),
            },
            afterFit: (s: any) => {
              s.height = p.xH; s.paddingLeft = 0; s.paddingRight = 0; s.paddingTop = 0; s.paddingBottom = 0;
            },
          },
          y: {
            type: "linear", position: "left", min: p.yRange[0], max: p.yRange[1],
            grid: { display: false, drawTicks: false }, border: { display: false },
            ticks: {
              stepSize: 1, includeBounds: false, autoSkip: false,
              padding: p.yPad, color: "#000", font: { family: FONT, size: p.tick },
              callback: (v: any) => String(v),
            },
            afterFit: (s: any) => {
              s.width = p.yW; s.paddingLeft = 0; s.paddingRight = 0; s.paddingTop = 0; s.paddingBottom = 0;
            },
          },
        },
      } as any,
      plugins: [frameTicks as any],
    });
    return () => chart.destroy();
  }, [p]);
  return (
    <canvas
      ref={ref}
      width={p.w}
      height={p.h}
      style={{ position: "absolute", left: 0, top: p.top, width: p.w, height: p.h, display: "block" }}
    />
  );
}

function LegendBox() {
  const rows = [
    { label: legendLabels[0], cy: 14, kind: "dot" },
    { label: legendLabels[1], cy: 33, kind: "circle" },
    { label: legendLabels[2], cy: 53, kind: "square" },
  ];
  return (
    <div
      style={{
        position: "absolute", left: 526, top: 230, width: 171, height: 77, boxSizing: "border-box",
        border: "1.5px solid #000", background: "#fff", fontFamily: FONT, fontSize: 16, color: "#000",
      }}
    >
      {rows.map((r) => {
        const size = r.kind === "dot" ? 8 : r.kind === "circle" ? 13 : 11;
        return (
          <React.Fragment key={r.label}>
            <div
              style={{
                position: "absolute", left: 20 - size / 2, top: r.cy - size / 2, width: size, height: size,
                boxSizing: "border-box",
                borderRadius: r.kind === "square" ? 0 : "50%",
                background: r.kind === "dot" ? "#000" : "#fff",
                border: r.kind === "dot" ? "none" : "1.8px solid #000",
              }}
            />
            <div
              style={{
                position: "absolute", left: 36, top: r.cy - 10, height: 20, lineHeight: "20px", whiteSpace: "nowrap",
              }}
            >
              {r.label}
            </div>
          </React.Fragment>
        );
      })}
    </div>
  );
}

export default function App() {
  return (
    <div
      style={{
        position: "absolute", left: 0, top: 0, width: 703, height: 1159, overflow: "hidden", background: "#fff",
      }}
    >
      {PANELS.map((p) => (
        <Panel key={p.key} p={p} />
      ))}
      {TITLES.map((t, i) => (
        <div
          key={i}
          style={{
            position: "absolute", left: t.x, top: t.y, fontFamily: FONT, fontSize: t.size, lineHeight: 1,
            whiteSpace: "nowrap", color: "#000",
            transform: t.rot ? "translate(-50%, -50%) rotate(-90deg)" : "translate(-50%, -50%)",
          }}
        >
          {t.text}
        </div>
      ))}
      <LegendBox />
    </div>
  );
}
